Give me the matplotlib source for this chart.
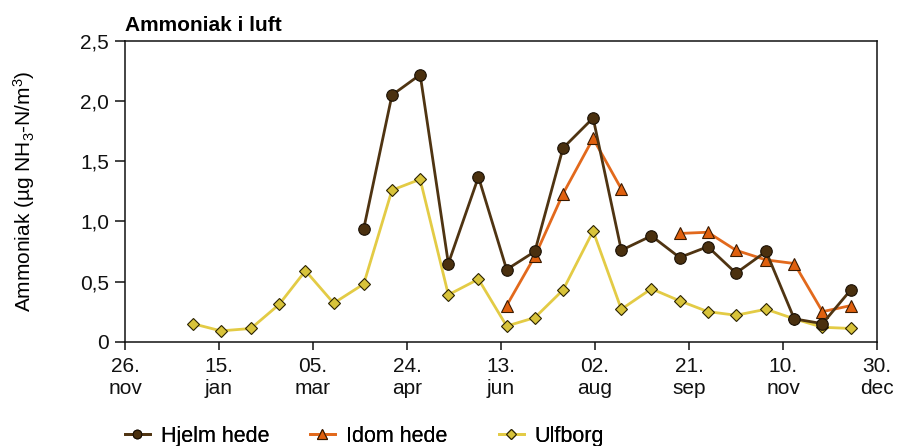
import numpy as np
import pandas as pd
import matplotlib
matplotlib.use("Agg")
import matplotlib.pyplot as plt
from matplotlib.lines import Line2D

plt.rcParams['font.family'] = ['Liberation Sans', 'DejaVu Sans']
plt.rcParams['mathtext.fontset'] = 'custom'
plt.rcParams['mathtext.rm'] = 'Liberation Sans'
plt.rcParams['mathtext.it'] = 'Liberation Sans:italic'
plt.rcParams['mathtext.bf'] = 'Liberation Sans:bold'

# ---- data ----
dates = ["2004-01-01", "2004-01-16", "2004-02-01", "2004-02-16", "2004-03-01", "2004-03-16",
         "2004-04-01", "2004-04-16", "2004-05-01", "2004-05-16", "2004-06-01", "2004-06-16",
         "2004-07-01", "2004-07-16", "2004-08-01", "2004-08-16", "2004-09-01", "2004-09-16",
         "2004-10-01", "2004-10-16", "2004-11-01", "2004-11-16", "2004-12-01", "2004-12-16"]
nan = np.nan
hjelm_hede = [nan, nan, nan, nan, nan, nan,
              0.94, 2.05, 2.22, 0.65, 1.37, 0.60,
              0.75, 1.61, 1.86, 0.76, 0.88, 0.70,
              0.79, 0.57, 0.75, 0.19, 0.15, 0.43]
idom_hede = [nan, nan, nan, nan, nan, nan,
             nan, nan, nan, nan, nan, 0.30,
             0.71, 1.23, 1.69, 1.27, nan, 0.90,
             0.91, 0.76, 0.68, 0.65, 0.25, 0.30]
ulfborg = [0.15, 0.09, 0.11, 0.31, 0.59, 0.32,
           0.48, 1.26, 1.35, 0.39, 0.52, 0.13,
           0.20, 0.43, 0.92, 0.27, 0.44, 0.34,
           0.25, 0.22, 0.27, 0.19, 0.12, 0.11]

tick_dates = ["2003-11-26", "2004-01-15", "2004-03-05", "2004-04-24", "2004-06-13",
              "2004-08-02", "2004-09-21", "2004-11-10", "2004-12-30"]
tick_labels = ["26.\nnov", "15.\njan", "05.\nmar", "24.\napr", "13.\njun",
               "02.\naug", "21.\nsep", "10.\nnov", "30.\ndec"]
y_ticks = [0, 0.5, 1.0, 1.5, 2.0, 2.5]
y_labels = ["0", "0,5", "1,0", "1,5", "2,0", "2,5"]

series_names = ["Hjelm hede", "Idom hede", "Ulfborg"]

# ---- figure ----
W, H = 898, 446
fig = plt.figure(figsize=(W / 100, H / 100), dpi=100)
ax = fig.add_axes([125 / W, 1 - 341.7 / H, (877 - 125) / W, (341.7 - 41) / H])

x = pd.to_datetime(dates)

styles = {
    "Ulfborg": dict(color='#e3cb45', marker='D', markersize=6.4, markerfacecolor='#d8c33a',
                    markeredgecolor='#2a2200', markeredgewidth=0.8, lw=2.0, zorder=2),
    "Idom hede": dict(color='#e2691c', marker='^', markersize=9, markerfacecolor='#e0600e',
                      markeredgecolor='#3a1a00', markeredgewidth=0.8, lw=2.0, zorder=3),
    "Hjelm hede": dict(color='#4f3412', marker='o', markersize=8.3, markerfacecolor='#4a300f',
                       markeredgecolor='#1a1005', markeredgewidth=0.8, lw=2.0, zorder=4),
}
values = {"Hjelm hede": hjelm_hede, "Idom hede": idom_hede, "Ulfborg": ulfborg}

for name in ["Ulfborg", "Idom hede", "Hjelm hede"]:
    ax.plot(x, values[name], **styles[name])

ax.set_xlim(pd.Timestamp(tick_dates[0]), pd.Timestamp(tick_dates[-1]))
ax.set_ylim(0, 2.5)
ax.set_xticks(pd.to_datetime(tick_dates))
ax.set_xticklabels(tick_labels, fontsize=15)
ax.set_yticks(y_ticks)
ax.set_yticklabels(y_labels, fontsize=15)

for s in ax.spines.values():
    s.set_linewidth(1.1)
    s.set_color('#111111')
ax.tick_params(axis='x', length=6, width=1.1, pad=5, colors='#111111')
ax.tick_params(axis='y', length=7.5, width=1.1, pad=4, colors='#111111')

ax.set_title("Ammoniak i luft", loc='left', fontweight='bold', fontsize=15, pad=7)

fig.text(24 / W, 1 - 191 / H, "Ammoniak (µg NH$_3$-N/m$^3$)", rotation=90,
         ha='center', va='center', fontsize=15)

# legends placed at fixed column positions
leg_x = [125, 310, 499]
for name, lx in zip(series_names, leg_x):
    st = styles[name]
    h = Line2D([], [], color=st['color'], lw=st['lw'], marker=st['marker'],
               markersize=st['markersize'] * 0.75, markerfacecolor=st['markerfacecolor'],
               markeredgecolor=st['markeredgecolor'], markeredgewidth=0.8)
    leg = fig.legend([h], [name], loc='upper left', bbox_to_anchor=(lx / W, 1 - 426 / H),
                     frameon=False, fontsize=15.5, handlelength=1.15, handletextpad=0.5,
                     borderpad=0, borderaxespad=0)
    fig.add_artist(leg)

fig.savefig("out.png", dpi=100)
